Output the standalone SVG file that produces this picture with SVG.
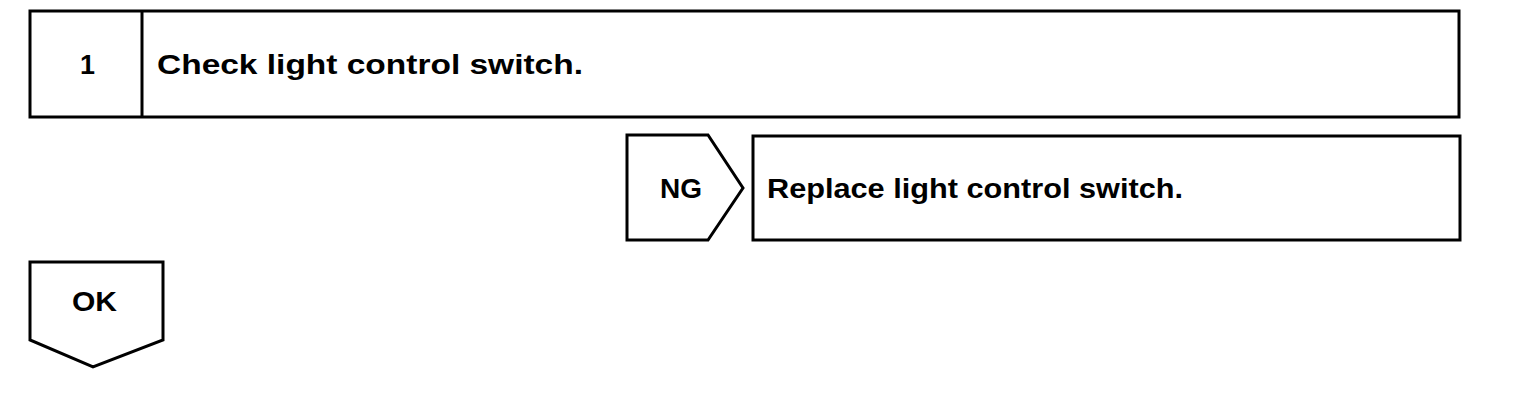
<svg xmlns="http://www.w3.org/2000/svg" width="1520" height="418" viewBox="0 0 1520 418">
<style>
.b{fill:#fff;stroke:#000;stroke-width:3}
.t{font-family:"Liberation Sans",Arial,sans-serif;font-weight:bold;font-size:27px;fill:#000}
</style>
<rect width="1520" height="418" fill="#fff"/>
<g id="step1">
<rect class="b" x="30" y="11" width="1429" height="106"/>
<line x1="142" y1="11" x2="142" y2="117" stroke="#000" stroke-width="3"/>
<text class="t" x="80" y="74" textLength="15" lengthAdjust="spacingAndGlyphs">1</text>
<text class="t" x="157" y="74" textLength="426" lengthAdjust="spacingAndGlyphs">Check light control switch.</text>
</g>
<g id="ng">
<polygon class="b" points="627,135 708,135 743,188 708,240 627,240"/>
<text class="t" x="660" y="198" textLength="42" lengthAdjust="spacingAndGlyphs">NG</text>
</g>
<g id="replace">
<rect class="b" x="753" y="136" width="707" height="104"/>
<text class="t" x="767" y="198" textLength="416" lengthAdjust="spacingAndGlyphs">Replace light control switch.</text>
</g>
<g id="ok">
<polygon class="b" points="30,262 163,262 163,340 93,367 30,340"/>
<text class="t" x="72" y="311" textLength="45" lengthAdjust="spacingAndGlyphs">OK</text>
</g>
<g id="connectors"></g>
</svg>
